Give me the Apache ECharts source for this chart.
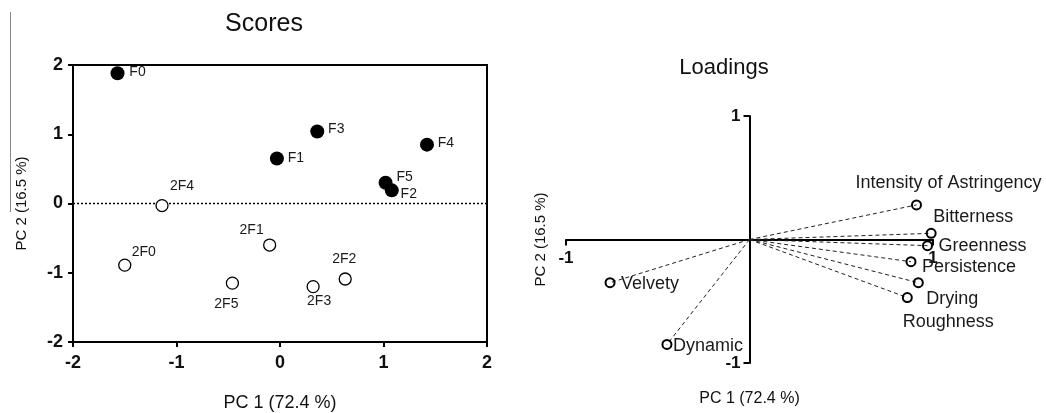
<!DOCTYPE html>
<html><head><meta charset="utf-8">
<script src="https://cdn.jsdelivr.net/npm/echarts@6/dist/echarts.min.js"></script>
<style>html,body{margin:0;padding:0;background:#fff}#c{width:1046px;height:413px}</style>
</head><body><div id="c"></div>
<script>
// ---- data ----
const scoreNames = ['F0','F1','F2','F3','F4','F5','2F0','2F1','2F2','2F3','2F4','2F5'];
const scorePC1   = [-1.57,-0.03,1.08,0.36,1.42,1.02,-1.50,-0.10,0.63,0.32,-1.14,-0.46];
const scorePC2   = [1.88,0.65,0.19,1.04,0.85,0.30,-0.89,-0.60,-1.09,-1.20,-0.03,-1.15];
const scoreGroup = ['F','F','F','F','F','F','2F','2F','2F','2F','2F','2F'];
const loadingNames = ['Intensity of Astringency','Bitterness','Greenness','Persistence','Drying','Roughness','Velvety','Dynamic'];
const loadingPC1   = [0.91,0.99,0.97,0.88,0.92,0.86,-0.76,-0.45];
const loadingPC2   = [0.28,0.05,-0.05,-0.18,-0.35,-0.47,-0.35,-0.85];
const scoreTicks   = [-2,-1,0,1,2];
const loadingTicks = [-1,1];
const titles = ['Scores','Loadings'];
const axisNames = ['PC 1 (72.4 %)','PC 2 (16.5 %)'];

// ---- label placement (style) ----
const scoreLabelOffset = {
  'F0':[20,-1],'F1':[19,0],'F2':[17,4],'F3':[19,-2],'F4':[19,-1],'F5':[19,-6],
  '2F0':[19,-13],'2F1':[-18,-15],'2F2':[-1,-20],'2F3':[6,15],'2F4':[20,-19],'2F5':[-6,21]
};
const loadingLabelOffset = {
  'Intensity of Astringency':[32,-22],'Bitterness':[42,-16],'Greenness':[55,0],
  'Persistence':[58,5],'Drying':[34,16],'Roughness':[41,24],'Velvety':[40,1],'Dynamic':[41,2]
};

const FONT = '"Liberation Sans", Arial, Helvetica, sans-serif';
const INK = '#111';

// loadings grid geometry (pixels)
const LG = {left:566, top:116, width:367, height:247};

function scorePoints(group){
  const out = [];
  scoreNames.forEach((n,i)=>{
    if (scoreGroup[i]===group) out.push({name:n, value:[scorePC1[i], scorePC2[i]],
      label:{offset: scoreLabelOffset[n]}});
  });
  return out;
}
const loadingPoints = loadingNames.map((n,i)=>({name:n, value:[loadingPC1[i], loadingPC2[i]],
  label:{offset: loadingLabelOffset[n]}}));
const loadingVectors = loadingNames.map((n,i)=>({coords:[[0,0],[loadingPC1[i], loadingPC2[i]]]}));

const chart = echarts.init(document.getElementById('c'), null, {renderer:'canvas'});
const scoreLabel = {show:true, position:'inside', formatter:'{b}', color:'#1a1a1a', fontSize:14, fontFamily:FONT};
const loadLabel = {show:true, position:'inside', formatter:'{b}', color:'#1a1a1a', fontSize:18, fontFamily:FONT};

chart.setOption({
  backgroundColor:'#fff',
  animation:false,
  textStyle:{fontFamily:FONT},
  title:[
    {text:titles[0], left:259, top:7, textAlign:'center', textStyle:{fontSize:25, fontWeight:'normal', color:INK, fontFamily:FONT}},
    {text:titles[1], left:719, top:52, textAlign:'center', textStyle:{fontSize:22, fontWeight:'normal', color:INK, fontFamily:FONT}}
  ],
  grid:[
    {left:73, top:65, width:414, height:277, show:true, borderColor:'#000', borderWidth:2, backgroundColor:'transparent', outerBoundsMode:'none', containLabel:false},
    {left:LG.left, top:LG.top, width:LG.width, height:LG.height, outerBoundsMode:'none', containLabel:false}
  ],
  xAxis:[
    {gridIndex:0, type:'value', min:scoreTicks[0], max:scoreTicks[scoreTicks.length-1], interval:1,
     name:axisNames[0], nameLocation:'middle', nameGap:52,
     nameTextStyle:{fontSize:18, color:INK, fontFamily:FONT},
     axisLine:{onZero:false, lineStyle:{color:'#000', width:2}},
     axisTick:{length:5, lineStyle:{color:'#000', width:2}},
     axisLabel:{fontSize:18, fontWeight:'bold', color:INK, margin:12, fontFamily:FONT},
     splitLine:{show:false}},
    {gridIndex:1, type:'value', min:-1, max:1, position:'bottom', offset:-LG.height/2,
     name:axisNames[0], nameLocation:'middle', nameGap:151,
     nameTextStyle:{fontSize:16, color:INK, fontFamily:FONT},
     axisLine:{onZero:false, lineStyle:{color:'#000', width:2}},
     axisTick:{length:6, customValues:loadingTicks, lineStyle:{color:'#000', width:2}},
     axisLabel:{fontSize:17, fontWeight:'bold', color:INK, margin:10, customValues:loadingTicks, fontFamily:FONT},
     splitLine:{show:false}}
  ],
  yAxis:[
    {gridIndex:0, type:'value', min:scoreTicks[0], max:scoreTicks[scoreTicks.length-1], interval:1,
     name:axisNames[1], nameLocation:'middle', nameGap:44, nameRotate:90,
     nameTextStyle:{fontSize:15, color:INK, fontFamily:FONT},
     axisLine:{onZero:false, lineStyle:{color:'#000', width:2}},
     axisTick:{length:5, lineStyle:{color:'#000', width:2}},
     axisLabel:{fontSize:18, fontWeight:'bold', color:INK, margin:10, fontFamily:FONT},
     splitLine:{show:false}},
    {gridIndex:1, type:'value', min:-1, max:1, position:'left', offset:-LG.width/2,
     name:axisNames[1], nameLocation:'middle', nameGap:201, nameRotate:90,
     nameTextStyle:{fontSize:15, color:INK, fontFamily:FONT},
     axisLine:{onZero:false, lineStyle:{color:'#000', width:2}},
     axisTick:{length:6, customValues:loadingTicks, lineStyle:{color:'#000', width:2}},
     axisLabel:{fontSize:17, fontWeight:'bold', color:INK, margin:9, customValues:loadingTicks, fontFamily:FONT},
     splitLine:{show:false}}
  ],
  graphic:[
    {type:'line', shape:{x1:10.5, y1:12, x2:10.5, y2:212}, style:{stroke:'#888', lineWidth:1}}
  ],
  series:[
    {type:'line', xAxisIndex:0, yAxisIndex:0, data:[[scoreTicks[0],0],[scoreTicks[scoreTicks.length-1],0]],
     symbol:'none', silent:true, lineStyle:{color:'#000', width:1.5, type:[2,2]}, z:1},
    {type:'scatter', xAxisIndex:0, yAxisIndex:0, data:scorePoints('F'),
     symbol:'circle', symbolSize:14, itemStyle:{color:'#000', opacity:1}, label:scoreLabel, z:3},
    {type:'scatter', xAxisIndex:0, yAxisIndex:0, data:scorePoints('2F'),
     symbol:'circle', symbolSize:12, itemStyle:{color:'#fff', borderColor:'#000', borderWidth:1.3, opacity:1}, label:scoreLabel, z:3},
    {type:'lines', coordinateSystem:'cartesian2d', xAxisIndex:1, yAxisIndex:1, data:loadingVectors,
     lineStyle:{color:'#222', width:1, type:[4,3], opacity:1}, silent:true, z:2},
    {type:'scatter', xAxisIndex:1, yAxisIndex:1, data:loadingPoints,
     symbol:'circle', symbolSize:9, itemStyle:{color:'rgba(255,255,255,0)', borderColor:'#000', borderWidth:2, opacity:1}, label:loadLabel, z:3}
  ]
});
</script>
</body></html>
